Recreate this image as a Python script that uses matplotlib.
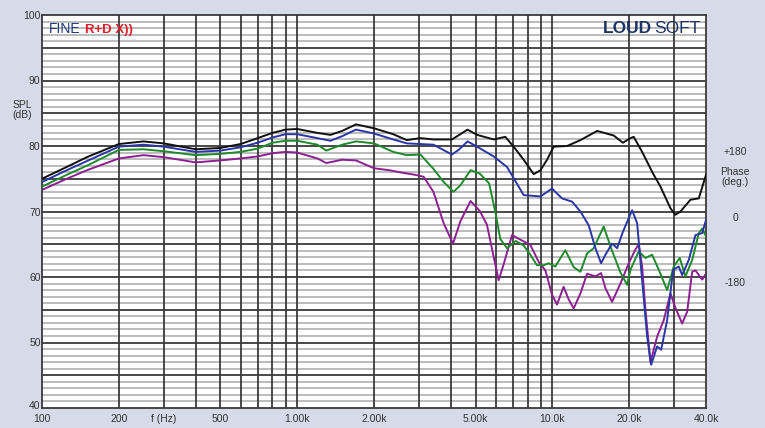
import matplotlib
matplotlib.use("Agg")
import matplotlib.pyplot as plt
import matplotlib.transforms as mtransforms
from matplotlib.ticker import FixedLocator, NullFormatter

plt.rcParams['font.family'] = ['Liberation Sans', 'DejaVu Sans']

# ---------------- data ----------------
black_f = [100, 125, 150, 200, 250, 300, 400, 500, 600, 700, 800, 900, 1000, 1200, 1350, 1500,
           1700, 2000, 2380, 2690, 3040, 3420, 4040, 4400, 4650, 5070, 5890, 6540, 7050, 7720,
           8450, 8980, 9530, 10120, 11420, 12880, 14980, 17390, 18900, 20230, 20840, 22480,
           24800, 26520, 29020, 30360, 31770, 34770, 37480, 40000]
black_db = [75.0, 76.8, 78.3, 80.3, 80.7, 80.4, 79.5, 79.7, 80.3, 81.2, 82.0, 82.5, 82.6, 82.0, 81.7, 82.3,
            83.3, 82.7, 81.8, 80.9, 81.2, 81.0, 81.0, 81.9, 82.5, 81.7, 81.0, 81.4, 79.9, 77.9,
            75.7, 76.3, 77.9, 79.9, 80.0, 80.9, 82.3, 81.6, 80.5, 81.2, 81.4, 79.1,
            75.8, 73.8, 70.5, 69.5, 70.0, 71.8, 72.0, 75.6]

blue_f = [100, 125, 150, 200, 250, 300, 400, 500, 600, 700, 800, 900, 1000, 1200, 1350, 1500,
          1700, 2000, 2380, 2690, 3040, 3420, 4040, 4290, 4650, 5070, 5890, 6640, 7050, 7720,
          8980, 9970, 10910, 11950, 12880, 13880, 14750, 15520, 16140, 17140, 17940, 18900,
          20540, 21490, 22480, 23520, 24380, 25740, 26690, 28170, 29740, 31280, 32250, 34240,
          36380, 38650, 40000]
blue_db = [74.5, 76.3, 77.7, 79.9, 80.2, 79.9, 79.1, 79.3, 79.8, 80.5, 81.3, 81.8, 81.8, 81.2, 80.8, 81.5,
           82.5, 81.9, 81.0, 80.4, 80.3, 80.2, 78.7, 79.4, 80.7, 79.9, 78.4, 76.8, 75.1, 72.5,
           72.3, 73.5, 72.0, 71.5, 70.0, 67.9, 64.4, 62.1, 63.4, 65.1, 64.4, 66.9,
           70.2, 68.2, 59.5, 50.9, 46.6, 49.4, 48.9, 53.4, 61.1, 61.6, 60.3, 62.6,
           66.4, 66.7, 68.7]

green_f = [100, 125, 150, 200, 250, 300, 400, 500, 600, 700, 800, 900, 1000, 1200, 1300, 1500,
           1700, 2000, 2380, 2690, 3040, 3420, 3750, 4100, 4360, 4780, 5190, 5650, 6000, 6250,
           6640, 7190, 7720, 8200, 8700, 9250, 9670, 10270, 11240, 12120, 12880, 13680, 14520,
           15890, 17140, 18480, 19630, 20230, 21800, 23160, 24600, 26120, 28170, 29900, 31560,
           33230, 35310, 37480, 38650, 40000]
green_db = [73.8, 75.6, 77.0, 79.4, 79.5, 79.2, 78.6, 78.8, 79.1, 79.6, 80.5, 80.8, 80.8, 80.2, 79.3, 80.2,
            80.7, 80.4, 79.1, 78.6, 78.7, 76.5, 74.5, 73.0, 74.0, 76.3, 75.8, 74.3, 69.6, 65.8,
            64.4, 65.5, 64.8, 63.4, 61.8, 61.8, 62.1, 61.6, 64.1, 61.5, 60.8, 63.6, 64.4,
            67.7, 64.0, 60.7, 58.8, 61.1, 63.9, 62.9, 63.4, 61.1, 58.0, 61.6, 62.9,
            60.1, 62.6, 66.7, 67.4, 66.2]

purple_f = [100, 125, 150, 200, 250, 300, 400, 500, 600, 700, 800, 900, 1000, 1200, 1300, 1500,
            1700, 2000, 2300, 2600, 2900, 3130, 3420, 3750, 4080, 4360, 4780, 5190, 5540, 5800,
            6160, 6450, 6950, 7490, 8200, 8840, 9390, 9970, 10430, 11070, 11580, 12120, 12880,
            13680, 14750, 15520, 16140, 17140, 18480, 19920, 21160, 21800, 22480, 23160, 24230,
            25740, 27320, 29020, 30360, 32250, 33750, 35310, 36380, 38650, 40000]
purple_db = [73.3, 75.0, 76.3, 78.1, 78.6, 78.3, 77.5, 77.8, 78.1, 78.4, 78.9, 79.1, 79.0, 78.1, 77.4, 77.9,
             77.8, 76.6, 76.3, 75.9, 75.6, 75.3, 73.0, 68.2, 65.1, 68.5, 71.6, 70.1, 68.0, 64.3,
             59.5, 62.0, 66.4, 65.7, 64.9, 62.3, 61.0, 57.3, 55.8, 58.5, 56.6, 55.2, 57.5,
             60.5, 60.1, 60.6, 58.3, 56.2, 59.0, 62.1, 64.2, 65.0, 61.6, 55.0, 47.0,
             50.9, 53.4, 57.5, 55.3, 52.9, 54.7, 60.8, 61.0, 59.6, 60.5]

x_ticks = [100, 200, 300, 500, 1000, 2000, 5000, 10000, 20000, 40000]
x_labels = ['100', '200', 'f (Hz)', '500', '1.00k', '2.00k', '5.00k', '10.0k', '20.0k', '40.0k']
y_ticks = [40, 50, 60, 70, 80, 90, 100]
phase_ticks = [180, 0, -180]
phase_labels = ['+180', '0', '-180']

# ---------------- figure ----------------
W, H = 765, 428
fig = plt.figure(figsize=(W / 100, H / 100), dpi=100)
bg = '#d7dbe9'
fig.patch.set_facecolor(bg)

left, right, top, bottom = 42, 706, 15, 408
ax = fig.add_axes([left / W, 1 - bottom / H, (right - left) / W, (bottom - top) / H])
ax.set_facecolor('white')
ax.set_xscale('log')
ax.set_xlim(100, 40000)
ax.set_ylim(40, 100)

# grid
minor_y = [v for v in range(41, 100) if v % 5 != 0]
major_y = list(range(45, 100, 5))
for v in minor_y:
    ax.axhline(v, color='#b0b0b0', lw=1.2, zorder=1)
for v in major_y:
    ax.axhline(v, color='#3a3a3a', lw=1.3, zorder=1.5)
vlines = [m * 10 ** e for e in (2, 3, 4) for m in range(1, 10) if 100 < m * 10 ** e < 40000]
for v in vlines:
    ax.axvline(v, color='#3a3a3a', lw=1.3, zorder=1.5)

# curves
lw = 1.4
ax.plot(black_f, black_db, color='#111111', lw=lw, zorder=5)
ax.plot(blue_f, blue_db, color='#2a36a6', lw=lw, zorder=4)
ax.plot(green_f, green_db, color='#1f8a2c', lw=lw, zorder=3)
ax.plot(purple_f, purple_db, color='#8c2090', lw=lw, zorder=2)

# axes ticks
ax.xaxis.set_major_locator(FixedLocator(x_ticks))
ax.set_xticklabels(x_labels)
ax.xaxis.set_minor_locator(FixedLocator([]))
ax.xaxis.set_minor_formatter(NullFormatter())
ax.set_yticks(y_ticks)
ax.tick_params(axis='both', length=0, labelsize=7.5, colors='#333333')
ax.tick_params(axis='x', pad=4)
ax.tick_params(axis='y', pad=1)
# nudge the lowest SPL label up slightly (as in the reference)
lab40 = ax.get_yticklabels()[0]
lab40.set_transform(lab40.get_transform() + mtransforms.ScaledTranslation(0, 3 / 100, fig.dpi_scale_trans))
for s in ax.spines.values():
    s.set_color('#3a3a3a')
    s.set_linewidth(1.3)

# phase axis (right)
ax2 = ax.twinx()
off = 69.2
ax2.set_ylim((40 - off) * 18, (100 - off) * 18)
ax2.set_yticks(phase_ticks)
ax2.set_yticklabels(phase_labels)
ax2.tick_params(axis='y', length=0, labelsize=7.5, colors='#333333', pad=21)
for lab in ax2.get_yticklabels():
    lab.set_horizontalalignment('center')
for s in ax2.spines.values():
    s.set_visible(False)

# axis titles
fig.text(22 / W, 1 - 110 / H, 'SPL\n(dB)', ha='center', va='center', fontsize=7.5,
         color='#333333', linespacing=1.0)
fig.text(735 / W, 1 - 177 / H, 'Phase\n(deg.)', ha='center', va='center', fontsize=7.5,
         color='#333333', linespacing=1.0)

# logos
fig.text(49 / W, 1 - 33 / H, 'FINE', ha='left', va='baseline', fontsize=10, color='#1e3a7a')
fig.text(85 / W, 1 - 33 / H, 'R+D X))', ha='left', va='baseline', fontsize=9.5,
         color='#e01c28', fontweight='bold')
fig.text(603 / W, 1 - 33 / H, 'LOUD', ha='left', va='baseline', fontsize=12.5,
         color='#1d3366', fontweight='bold')
fig.text(654 / W, 1 - 33 / H, 'SOFT', ha='left', va='baseline', fontsize=12.5,
         color='#1d3366')

fig.savefig('out.png', dpi=100, facecolor=fig.get_facecolor())
